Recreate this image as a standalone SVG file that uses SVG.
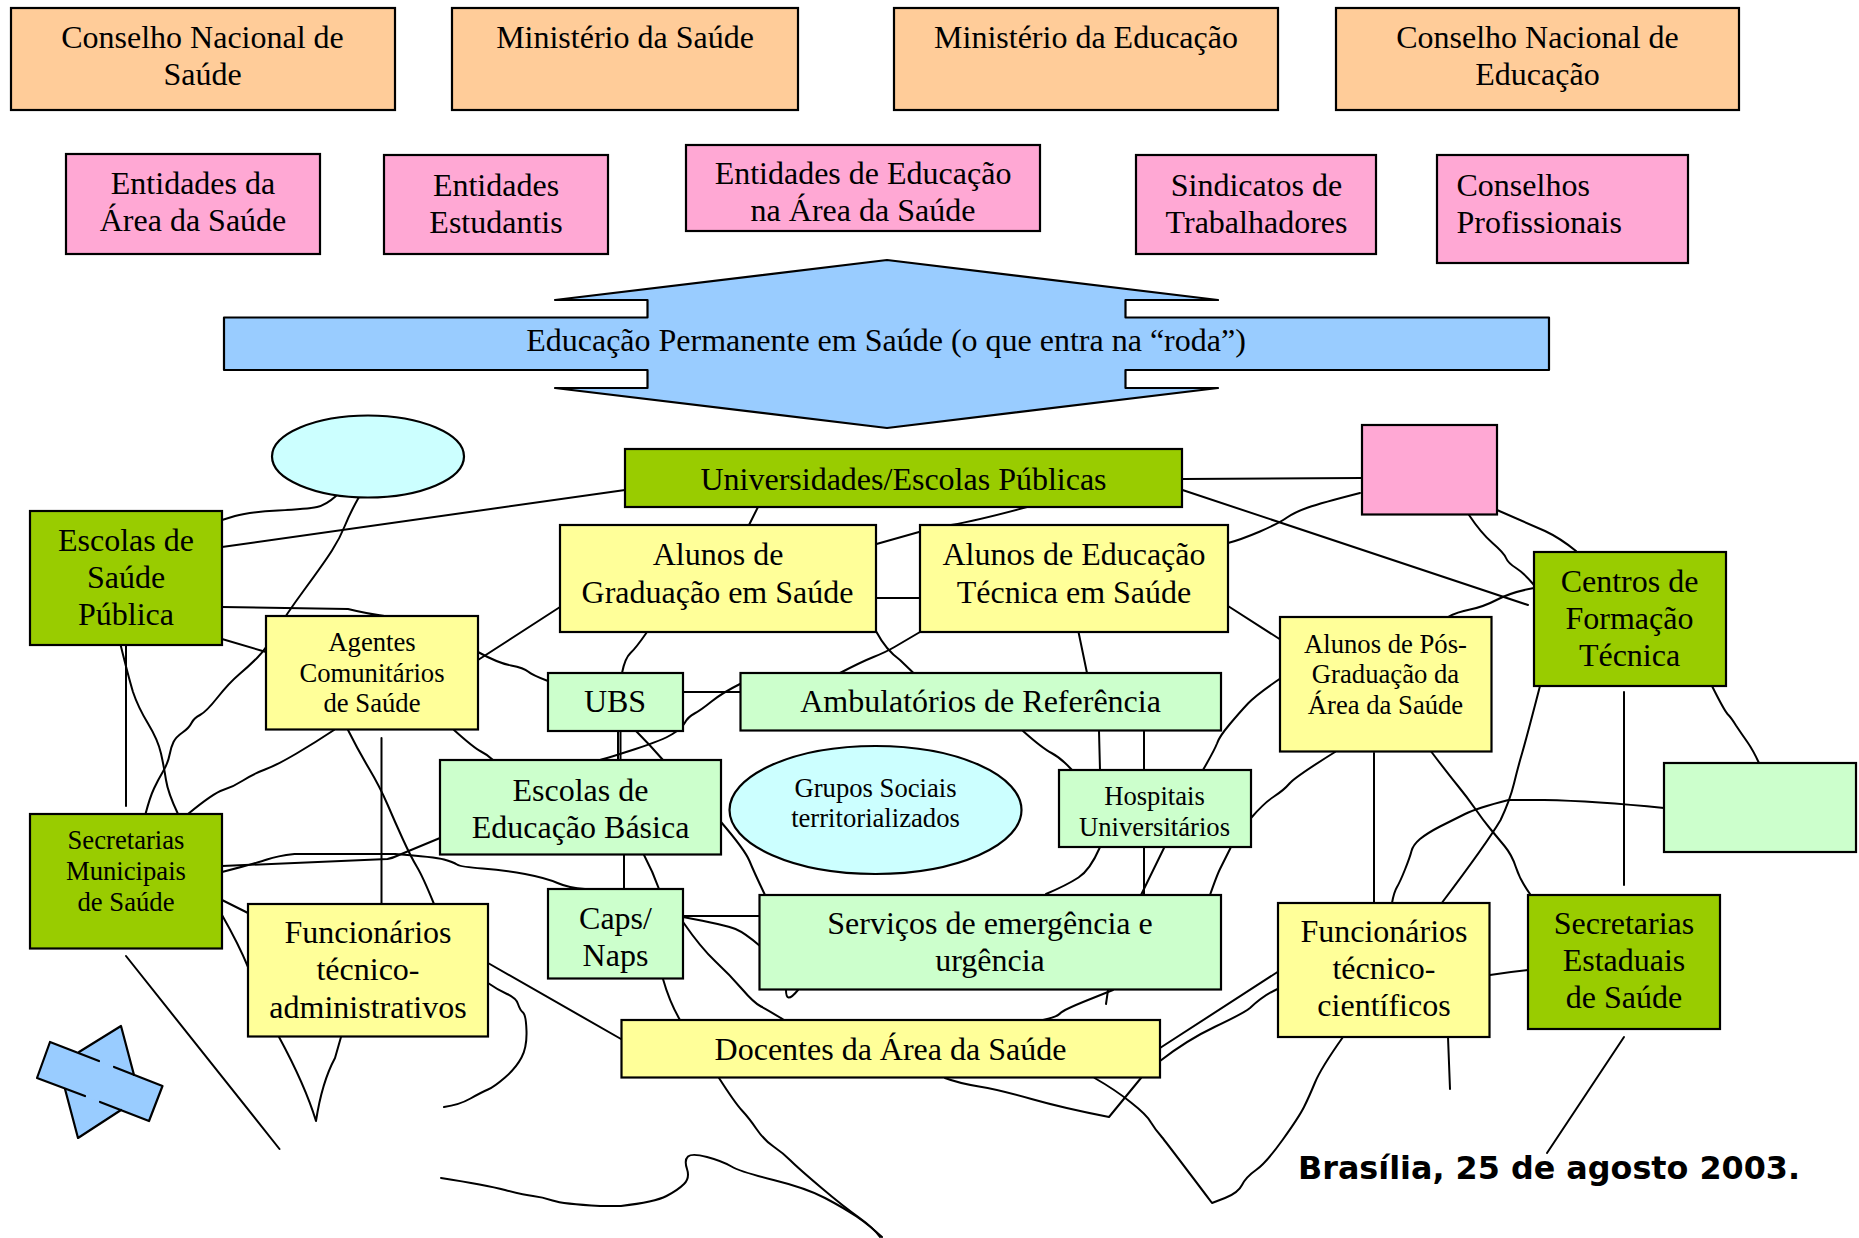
<svg xmlns="http://www.w3.org/2000/svg" width="1859" height="1238" viewBox="0 0 1859 1238">
<style>
text{font-family:"Liberation Serif","Times New Roman",serif;font-size:32px;fill:#000;text-anchor:middle}
.s{font-size:26.67px}
.l{text-anchor:start}
.b{stroke:#000;stroke-width:2.2}
.or{fill:#FFCC99}.pk{fill:#FFA8D4}.gr{fill:#99CC00}.ye{fill:#FFFF99}.lg{fill:#CCFFCC}.cy{fill:#CCFFFF}.bl{fill:#99CCFF}
#connectors path,#connectors line{fill:none;stroke:#000;stroke-width:2;stroke-linejoin:round;stroke-linecap:round}
.o{fill:none;stroke:#000;stroke-width:2.2;stroke-linejoin:round;stroke-linecap:round}
</style>
<rect width="1859" height="1238" fill="#fff"/>
<g id="connectors">
<path d="M222,520 L235,516 Q249,512 278,510.5 Q308,509 317,507 Q326,505 336,496"/>
<line x1="222" y1="547" x2="625" y2="490"/>
<path d="M359,497 Q350,513 345,525.5 Q340,538 332,550.5 Q324,563 304.5,589.5 Q285,616 275.5,632.5 Q266,649 257.5,657.5 Q249,666 239,674.5 Q229,683 217.5,697.5 Q206,712 200,715 Q194,718 191.5,723 Q189,728 182.5,732.5 Q176,737 173.5,742 Q171,747 169.5,755 Q168,763 163,771.5 Q158,780 154,788.5 Q150,797 145.5,814"/>
<path d="M222,607 L348,609 Q368,614 391,617"/>
<line x1="222" y1="639" x2="266" y2="652"/>
<line x1="126" y1="645" x2="126" y2="806"/>
<path d="M120.6,645 Q128.5,677 133,692 Q138,707 148,723.5 Q158,740 161,753.5 Q164,767 166,780 Q168,793 178,814"/>
<path d="M334,730 Q316,742 296.5,753.5 Q277,765 265,769.5 Q253,774 243,780.5 Q233,787 223,790 Q213.5,793 188,814"/>
<path d="M348,730 Q358,750 369,768.5 Q380,787 387.5,804.5 Q395,822 403,839.5 Q411,857 417,867 Q423,877 434,904"/>
<line x1="381.5" y1="738" x2="381.5" y2="904"/>
<path d="M454,730 Q474,748 481,751.5 Q488,755 493,760"/>
<line x1="478" y1="660" x2="560" y2="607"/>
<path d="M478,652 Q498,663 511,665.5 Q524,668 528,671.5 Q532,675 548,681"/>
<line x1="618" y1="731" x2="618" y2="760"/>
<line x1="620.5" y1="731" x2="620.5" y2="760"/>
<path d="M740,684 Q722,693 711.5,701.5 Q701,710 694.5,713.5 Q688,717 685,722.5 Q682,728 672.5,734 Q663,740 635.5,749 Q608,758 600,760"/>
<line x1="683" y1="692" x2="740" y2="692"/>
<path d="M636,731 Q650,745 663,760"/>
<path d="M647,632 Q636,648 630.5,653 Q625,658 622,673"/>
<path d="M758,507 L749,525"/>
<path d="M1027,507 Q979,520 951,525 L919,532 L876.5,544"/>
<line x1="876" y1="598" x2="920" y2="598"/>
<path d="M876.5,632 Q886,650 900,660 L913.5,673"/>
<path d="M920,632 Q903,642 894.5,647 Q886,652 873.5,657 Q861,662 840,673"/>
<line x1="1078.5" y1="632" x2="1087" y2="673"/>
<line x1="1182.5" y1="479" x2="1362" y2="478"/>
<line x1="1182.5" y1="490" x2="1528" y2="605"/>
<path d="M1228,543 Q1240,540 1260,531.5 Q1279.5,523 1287,517.5 Q1295,512 1308,507.5 Q1321,503 1360,493"/>
<line x1="1228" y1="606" x2="1279.5" y2="639"/>
<path d="M1279.5,679 Q1256,695 1248,703.5 Q1240,712 1229.5,724.5 Q1219,737 1217,743.5 Q1214.5,750 1203,770"/>
<path d="M1023,731 Q1042,748 1051.5,753 Q1061,758 1072,770"/>
<line x1="1099" y1="731" x2="1100" y2="770"/>
<line x1="1144" y1="731" x2="1144" y2="770"/>
<path d="M1099.6,848 Q1090,870 1078.5,877.5 Q1067,885 1046,894"/>
<line x1="1144" y1="848" x2="1144" y2="895"/>
<line x1="1164" y1="848" x2="1141" y2="895"/>
<path d="M1230.5,848 Q1223,863 1220,869 Q1217,875 1210,895"/>
<path d="M1335,752 Q1295,777 1289.5,783.5 Q1284,790 1274,796.5 Q1264,803 1251,818"/>
<path d="M721,822 Q745,850 749.5,861 Q754,872 765,895"/>
<line x1="624" y1="855" x2="624" y2="889"/>
<path d="M644,855 Q653,872 659,889"/>
<line x1="683" y1="916" x2="759" y2="916"/>
<path d="M683,917 Q726,925 735.5,929 Q745,933 760,946"/>
<path d="M683,922 Q701,948 715.5,961.5 Q730,975 742,989 Q754,1003 761,1006.5 Q768,1010 784,1020"/>
<path d="M663,979 Q669.5,1002 680,1020"/>
<path d="M798,990 Q791.5,998 788.5,997.5 Q786,997 786,990"/>
<path d="M1113,990 L1088,1000 Q1063,1010 1060,1013.5 Q1057,1017 1043,1020"/>
<line x1="1106" y1="1004" x2="1108" y2="990"/>
<line x1="488" y1="963" x2="621" y2="1039"/>
<path d="M488,983 Q498,990 507,994 Q516,998 518,1004 Q520,1010 523,1012.5 Q526,1015 526.5,1031 Q527,1047 521.5,1057.5 Q516,1068 505,1077.5 Q494,1087 488,1089.5 Q482,1092 470.5,1098.5 Q459,1105 444,1107"/>
<path d="M279,1037 Q305,1085 316,1121 Q322,1082 335,1058 L341,1037"/>
<line x1="126" y1="956" x2="279.5" y2="1149"/>
<line x1="222" y1="900" x2="248" y2="913"/>
<path d="M222,915 Q239,945 248,967"/>
<path d="M222,866 L387.5,859 Q393,858 399,855 L440,838"/>
<path d="M222,872 Q257,863 267,859.5 Q277,856 294.5,854 L395,854 Q435,857 444,859.5 Q453,862 457,864.5 Q461,867 482.5,868.5 Q504,870 525,874 Q546,878 557.5,883 Q569,888 585,889"/>
<path d="M441,1178 Q486,1185 505,1190 Q524,1195 533,1196 Q542,1197 552.5,1200.5 Q563,1204 600,1206 L621,1206 Q655,1202 666.5,1196 Q678,1190 684,1184 Q690,1178 687,1169 Q684,1160 688,1156.5 Q692,1153 707,1157 Q722,1161 731.5,1166.5 Q741,1172 773.5,1180 Q806,1188 825,1198 Q844,1208 856.5,1216.5 Q869,1225 882,1237"/>
<path d="M719,1078 Q735,1103 742,1110.5 Q749,1118 756.5,1129 Q764,1140 773.5,1146.5 Q783,1153 790.5,1160.5 Q798,1168 821,1187.5 Q844,1207 859,1217.5 Q873.6,1228 880,1237"/>
<path d="M945,1078 Q958,1083 979,1086.5 Q1000,1090 1031.5,1099 Q1063,1108 1109,1117 L1141,1078"/>
<path d="M1094.6,1078 Q1115.6,1090 1131,1102.5 Q1147,1115 1151,1122.5 Q1155.6,1130 1161,1136 Q1166,1142 1212,1203 L1225,1198 Q1238,1193 1242,1185 Q1246,1177 1256,1170 Q1266,1163 1282.5,1140 Q1299,1117 1304,1107 Q1309,1097 1315,1082.5 Q1321,1068 1343,1037"/>
<line x1="1160" y1="1048" x2="1277.5" y2="972"/>
<path d="M1160,1061 Q1187,1040 1215.5,1026.5 Q1244,1013 1250,1008 Q1264,995 1277.5,989"/>
<path d="M1490,975 Q1508,972 1528,970"/>
<line x1="1448" y1="1037" x2="1450" y2="1089"/>
<line x1="1624" y1="1037" x2="1547" y2="1153"/>
<line x1="1624" y1="692" x2="1624" y2="885"/>
<line x1="1374" y1="753" x2="1374" y2="903"/>
<path d="M1469,515 Q1481,533 1492.5,543 Q1504,553 1506,558 Q1508,563 1516,568 Q1524,573 1534,585"/>
<path d="M1497,510 L1545,531 Q1560,538 1576,551"/>
<path d="M1534,588 Q1512,592 1497.5,599.5 Q1483,607 1470,609.5 Q1457,612 1448,617"/>
<path d="M1540,686 Q1526,740 1522,753.5 Q1518,767 1514,783.5 Q1510,800 1500.6,820 Q1487,843 1442.5,902"/>
<path d="M1712,686 Q1724,710 1727.5,714 Q1731.5,718 1736,725.5 Q1741,733 1747,741.5 Q1753,750 1759,763"/>
<path d="M1664,808 Q1595,801 1544,800 L1508.5,800 Q1477,808 1465,814 Q1453,820 1440,826.5 Q1427.5,833 1420,839 Q1413,845 1411.5,851 Q1410,857 1405,869.5 Q1400,882 1397,887 Q1394,892 1392,903"/>
<path d="M1431.5,752 Q1449,775 1458,786 Q1467,797 1475,808.5 Q1483,820 1490,828.5 Q1497,837 1504.5,846 Q1512,855 1516,867.5 Q1520,880 1530,894"/>
</g>
<g id="n1"><rect class="b or" x="11" y="8" width="384" height="102"/><text x="202.500" y="48">Conselho Nacional de</text><text x="202.500" y="84.500">Saúde</text></g>
<g id="n2"><rect class="b or" x="452" y="8" width="346" height="102"/><text x="625" y="48">Ministério da Saúde</text></g>
<g id="n3"><rect class="b or" x="894" y="8" width="384" height="102"/><text x="1086" y="48">Ministério da Educação</text></g>
<g id="n4"><rect class="b or" x="1336" y="8" width="403" height="102"/><text x="1537.500" y="48">Conselho Nacional de</text><text x="1537.500" y="84.500">Educação</text></g>
<g id="n5"><rect class="b pk" x="66" y="154" width="254" height="100"/><text x="193" y="194">Entidades da</text><text x="193" y="231">Área da Saúde</text></g>
<g id="n6"><rect class="b pk" x="384" y="155" width="224" height="99"/><text x="496" y="196">Entidades</text><text x="496" y="232.500">Estudantis</text></g>
<g id="n7"><rect class="b pk" x="686" y="145" width="354" height="86"/><text x="863" y="184">Entidades de Educação</text><text x="863" y="221">na Área da Saúde</text></g>
<g id="n8"><rect class="b pk" x="1136" y="155" width="240" height="99"/><text x="1256.500" y="196">Sindicatos de</text><text x="1256.500" y="232.500">Trabalhadores</text></g>
<g id="n9"><rect class="b pk" x="1437" y="155" width="251" height="108"/><text class="l" x="1456.500" y="196">Conselhos</text><text class="l" x="1456.500" y="232.500">Profissionais</text></g>
<g id="n10"><polygon class="bl" points="224,317.500 647.500,317.500 647.500,300 555,300 887,260 1218,300 1125.500,300 1125.500,317.500 1549,317.500 1549,370 1125.500,370 1125.500,388 1218,388 887,428 555,388 647.500,388 647.500,370 224,370"/><polygon class="o" points="224,317.500 647.500,317.500 647.500,300 555,300 887,260 1218,300 1125.500,300 1125.500,317.500 1549,317.500 1549,370 1125.500,370 1125.500,388 1218,388 887,428 555,388 647.500,388 647.500,370 224,370"/><text x="886" y="351">Educação Permanente em Saúde (o que entra na “roda”)</text></g>
<g id="n11"><ellipse class="b cy" cx="368" cy="456.500" rx="96" ry="41"/></g>
<g id="n12"><rect class="b gr" x="625" y="449" width="557" height="58"/><text x="903.500" y="490">Universidades/Escolas Públicas</text></g>
<g id="n13"><rect class="b pk" x="1362" y="425" width="135" height="89.500"/></g>
<g id="n14"><rect class="b gr" x="30" y="511" width="192" height="134"/><text x="126" y="551">Escolas de</text><text x="126" y="588">Saúde</text><text x="126" y="625">Pública</text></g>
<g id="n15"><rect class="b ye" x="560" y="525" width="316" height="107"/><text x="718" y="565">Alunos de</text><text x="717.500" y="603">Graduação em Saúde</text></g>
<g id="n16"><rect class="b ye" x="920" y="525" width="308" height="107"/><text x="1074" y="564.500">Alunos de Educação</text><text x="1074" y="602.500">Técnica em Saúde</text></g>
<g id="n17"><rect class="b gr" x="1534" y="552" width="192" height="134"/><text x="1629.500" y="592">Centros de</text><text x="1629.500" y="629">Formação</text><text x="1629.500" y="665.500">Técnica</text></g>
<g id="n18"><rect class="b ye" x="266" y="616" width="212" height="113.500"/><text class="s" x="372" y="651">Agentes</text><text class="s" x="372" y="682">Comunitários</text><text class="s" x="372" y="712">de Saúde</text></g>
<g id="n19"><rect class="b ye" x="1280" y="617" width="211.500" height="134.500"/><text class="s" x="1385.500" y="653">Alunos de Pós-</text><text class="s" x="1385.500" y="683">Graduação da</text><text class="s" x="1385.500" y="713.500">Área da Saúde</text></g>
<g id="n20"><rect class="b lg" x="548" y="673" width="135" height="58"/><text x="615" y="712">UBS</text></g>
<g id="n21"><rect class="b lg" x="740.500" y="673" width="480.500" height="57.500"/><text x="980.500" y="712">Ambulatórios de Referência</text></g>
<g id="n22"><rect class="b lg" x="440" y="760" width="281" height="94.500"/><text x="580.500" y="801">Escolas de</text><text x="580.500" y="838">Educação Básica</text></g>
<g id="n23"><ellipse class="b cy" cx="875.500" cy="810" rx="146" ry="64"/><text class="s" x="875.500" y="797">Grupos Sociais</text><text class="s" x="875.500" y="827">territorializados</text></g>
<g id="n24"><rect class="b lg" x="1059" y="770" width="192" height="77"/><text class="s" x="1154.500" y="805">Hospitais</text><text class="s" x="1154.500" y="836">Universitários</text></g>
<g id="n25"><rect class="b lg" x="1664" y="763" width="192" height="89"/></g>
<g id="n26"><rect class="b gr" x="30" y="814" width="192" height="134.500"/><text class="s" x="126" y="849">Secretarias</text><text class="s" x="126" y="880">Municipais</text><text class="s" x="126" y="911">de Saúde</text></g>
<g id="n27"><rect class="b lg" x="548" y="889" width="135" height="89.500"/><text x="615.500" y="929">Caps/</text><text x="615.500" y="966">Naps</text></g>
<g id="n28"><rect class="b lg" x="759.500" y="895" width="461.500" height="94.500"/><text x="990" y="934">Serviços de emergência e</text><text x="990" y="971">urgência</text></g>
<g id="n29"><rect class="b ye" x="248" y="904" width="240" height="132.500"/><text x="368" y="943">Funcionários</text><text x="368" y="980">técnico-</text><text x="368" y="1018">administrativos</text></g>
<g id="n30"><rect class="b ye" x="1278" y="903" width="211.500" height="134"/><text x="1384" y="942">Funcionários</text><text x="1384" y="979">técnico-</text><text x="1384" y="1016">científicos</text></g>
<g id="n31"><rect class="b gr" x="1528" y="895" width="192" height="134"/><text x="1624" y="934">Secretarias</text><text x="1624" y="971">Estaduais</text><text x="1624" y="1008">de Saúde</text></g>
<g id="n32"><rect class="b ye" x="621.500" y="1020" width="538.500" height="57.500"/><text x="890.500" y="1060">Docentes da Área da Saúde</text></g>
<g id="n33">
<polygon class="bl" points="79,1052 121,1026 134,1075 121,1110 78,1138 65,1090"/>
<polygon class="bl" points="50,1042 162.500,1086 149,1121 37,1078"/>
<polyline class="o" points="79,1052 121,1026 134,1075"/>
<polyline class="o" points="65,1089 78,1138 121,1110"/>
<polyline class="o" points="99,1061 50,1042 37,1078 85,1096"/>
<polyline class="o" points="114,1067 162.500,1086 149,1121 100,1102"/>
</g>
<text x="1549" y="1179" style="font-family:'DejaVu Sans',Verdana,sans-serif;font-weight:bold;font-size:31.8px">Brasília, 25 de agosto 2003.</text>
</svg>
